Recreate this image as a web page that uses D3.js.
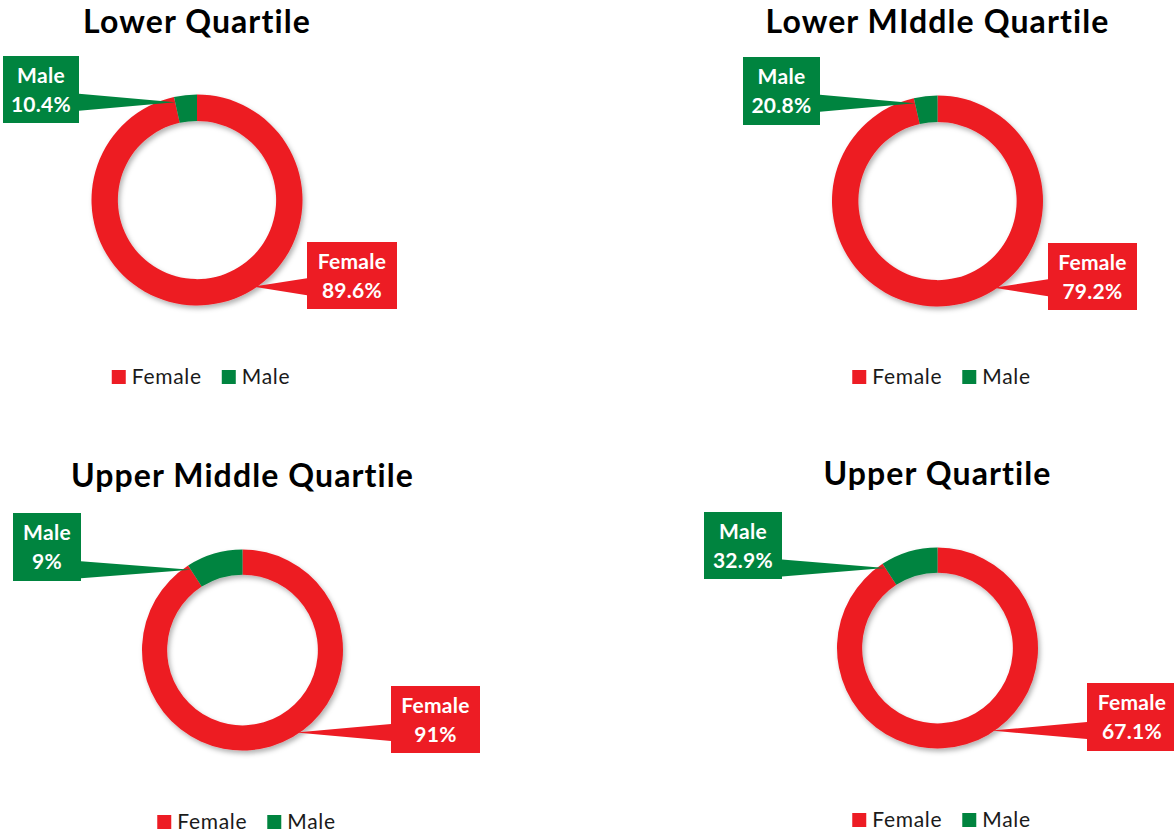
<!DOCTYPE html>
<html>
<head>
<meta charset="utf-8">
<script src="https://cdn.jsdelivr.net/npm/d3@7"></script>
<style>
  body { margin: 0; background: #fff; }
  svg { display: block; font-family: Lato, "Open Sans", sans-serif; font-variant-ligatures: none; }
</style>
</head>
<body>
<svg id="chart" width="1174" height="833"></svg>
<script>
// data
const quartiles = ["Lower Quartile", "Lower MIddle Quartile", "Upper Middle Quartile", "Upper Quartile"];
const genders = ["Female", "Male"];
// slice sizes as they are drawn in the rings (%)
const femaleShare = [96.5, 96.4, 90.9, 90.8];
const maleShare = [3.5, 3.6, 9.1, 9.2];
// label texts printed in the callouts
const femaleLabels = ["89.6%", "79.2%", "91%", "67.1%"];
const maleLabels = ["10.4%", "20.8%", "9%", "32.9%"];

// layout of the four little charts
const panels = [
    {cx: 197, cy: 200, r: 105.5, titleY: 33, legendY: 370,
     male: {x: 3, y: 56, w: 76, h: 67}, female: {x: 307, y: 242, w: 90, h: 67}},
    {cx: 937.5, cy: 201, r: 105.5, titleY: 33, legendY: 370,
     male: {x: 743, y: 57, w: 77, h: 68}, female: {x: 1048, y: 243, w: 89, h: 67}},
    {cx: 242.5, cy: 650, r: 100.5, titleY: 487, legendY: 815,
     male: {x: 13, y: 513, w: 68, h: 68}, female: {x: 391, y: 686, w: 89, h: 67}},
    {cx: 937.5, cy: 648, r: 100.5, titleY: 485, legendY: 813,
     male: {x: 704, y: 512, w: 78, h: 67}, female: {x: 1087, y: 683, w: 90, h: 68}}
];

const color = d3.scaleOrdinal().domain(genders).range(["#ED1C24", "#00843F"]);

const svg = d3.select("#chart");

// soft shadow under the rings
svg.append("defs").append("filter")
    .attr("id", "shadow")
    .attr("x", "-20%").attr("y", "-20%")
    .attr("width", "140%").attr("height", "140%")
    .append("feDropShadow")
    .attr("dx", 2).attr("dy", 3)
    .attr("stdDeviation", 2.5)
    .attr("flood-color", "#000")
    .attr("flood-opacity", 0.3);

const pie = d3.pie().sort(null).value(d => d.value);

let point = (cx, cy, angle, radius) => [cx + Math.sin(angle) * radius, cy - Math.cos(angle) * radius];

let draw_callout = (g, box, tip, side, fill, lines) => {
    // wedge from box side to the ring
    let bx = side === "right" ? box.x + box.w : box.x;
    let by = Math.max(box.y + 9, Math.min(box.y + box.h - 9, tip[1]));
    g.append("polygon")
        .attr("points", [[bx, by - 8.5], tip, [bx, by + 8.5]].map(p => p.join(",")).join(" "))
        .attr("fill", fill);
    g.append("rect")
        .attr("x", box.x).attr("y", box.y)
        .attr("width", box.w).attr("height", box.h)
        .attr("fill", fill);
    lines.forEach((t, i) => {
        g.append("text")
            .attr("x", box.x + box.w / 2)
            .attr("y", box.y + 27 + i * 29)
            .attr("text-anchor", "middle")
            .attr("fill", "#fff")
            .attr("font-weight", "bold")
            .attr("font-size", 21)
            .attr("letter-spacing", 0.3)
            .text(t);
    });
}

quartiles.forEach((title, i) => {
    let p = panels[i];
    let g = svg.append("g");

    let data = [
        {name: "Female", value: femaleShare[i]},
        {name: "Male", value: maleShare[i]}
    ];
    let arcs = pie(data);
    let arc = d3.arc().innerRadius(p.r * 0.75).outerRadius(p.r);

    g.append("text")
        .attr("x", p.cx)
        .attr("y", p.titleY)
        .attr("text-anchor", "middle")
        .attr("font-weight", "bold")
        .attr("font-size", 32)
        .attr("letter-spacing", 1.1)
        .attr("fill", "#000")
        .text(title);

    g.append("g")
        .attr("transform", `translate(${p.cx},${p.cy})`)
        .attr("filter", "url(#shadow)")
        .selectAll("path")
        .data(arcs)
        .enter()
        .append("path")
        .attr("d", arc)
        .attr("fill", d => color(d.data.name));

    // callouts
    let maleTip = point(p.cx, p.cy, arcs[1].startAngle, p.r * 0.95);
    let femaleTip = point(p.cx, p.cy, 147 * Math.PI / 180, p.r * 0.98);
    draw_callout(g, p.male, maleTip, "right", color("Male"), ["Male", maleLabels[i]]);
    draw_callout(g, p.female, femaleTip, "left", color("Female"), ["Female", femaleLabels[i]]);

    // legend
    let leg = g.append("g");
    let x = 0;
    genders.forEach(name => {
        leg.append("rect")
            .attr("x", x).attr("y", 0)
            .attr("width", 14).attr("height", 14)
            .attr("fill", color(name));
        let t = leg.append("text")
            .attr("x", x + 20)
            .attr("y", 13.5)
            .attr("font-size", 21)
            .attr("letter-spacing", 0.7)
            .attr("fill", "#1a1a1a")
            .text(name);
        x += 20 + t.node().getComputedTextLength() + 20;
    });
    let w = x - 20;
    leg.attr("transform", `translate(${p.cx + 4 - w / 2},${p.legendY})`);
});
</script>
</body>
</html>
